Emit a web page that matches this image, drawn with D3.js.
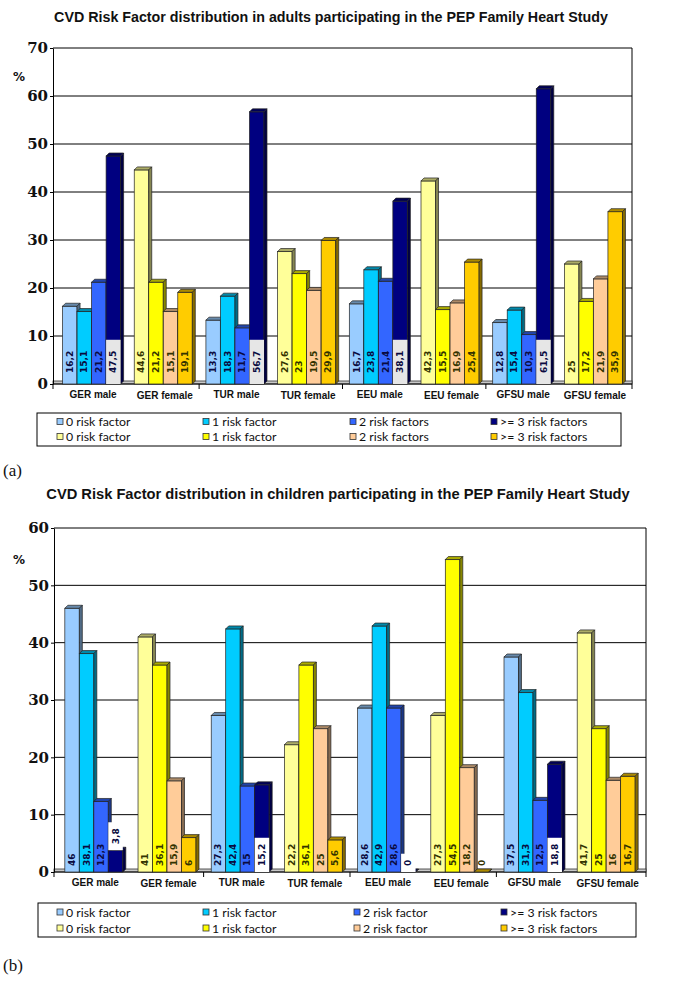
<!DOCTYPE html>
<html><head><meta charset="utf-8">
<script src="https://cdn.jsdelivr.net/npm/d3@7"></script>
<style>body{margin:0;background:#fff}</style>
</head><body>
<script>
// ---------------- DATA ----------------
const categories = ["GER male","GER female","TUR male","TUR female","EEU male","EEU female","GFSU male","GFSU female"];

const adultsRisk0 = [16.2, 44.6, 13.3, 27.6, 16.7, 42.3, 12.8, 25];
const adultsRisk1 = [15.1, 21.2, 18.3, 23, 23.8, 15.5, 15.4, 17.2];
const adultsRisk2 = [21.2, 15.1, 11.7, 19.5, 21.4, 16.9, 10.3, 21.9];
const adultsRisk3 = [47.5, 19.1, 56.7, 29.9, 38.1, 25.4, 61.5, 35.9];

const childrenRisk0 = [46, 41, 27.3, 22.2, 28.6, 27.3, 37.5, 41.7];
const childrenRisk1 = [38.1, 36.1, 42.4, 36.1, 42.9, 54.5, 31.3, 25];
const childrenRisk2 = [12.3, 15.9, 15, 25, 28.6, 18.2, 12.5, 16];
const childrenRisk3 = [3.8, 6, 15.2, 5.6, 0, 0, 18.8, 16.7];

const adultTicks = [0, 10, 20, 30, 40, 50, 60, 70];
const childTicks = [0, 10, 20, 30, 40, 50, 60];

const adultLegend = ["0 risk factor", "1 risk factor", "2 risk factors", ">= 3 risk factors"];
const childLegend = ["0 risk factor", "1 risk factor", "2 risk factor", ">= 3 risk factors"];

const maleColors = ["#99ccff", "#00ccff", "#3366ff", "#000080"];
const femaleColors = ["#ffff99", "#ffff00", "#ffcc99", "#ffcc00"];

// ---------------- DRAW ----------------
const fmt = v => String(v).replace(".", ",");
const svg = d3.select("body").append("svg")
  .attr("width", 679).attr("height", 982).style("display", "block");

function drawChart(o) {
  const g = svg.append("g");
  const y = d3.scaleLinear().domain([0, o.yMax]).range([o.bottom, o.top]);
  const x = d3.scaleBand().domain(categories).range([o.left, o.right])
    .paddingInner(o.pin).paddingOuter(o.pout);
  const xs = d3.scaleBand().domain(d3.range(4)).range([0, x.bandwidth()]);
  const D = 3;
  const y0 = y(0);

  // title: font size fitted to the target width
  const tt = g.append("text").attr("x", o.titleX).attr("y", o.titleY).attr("text-anchor", "middle")
    .attr("font-family", "'Liberation Sans', Arial, sans-serif")
    .attr("font-size", 16).attr("font-weight", "bold").attr("fill", "#111")
    .text(o.title);
  const tl = tt.node().getComputedTextLength();
  tt.attr("font-size", 16 * o.titleLen / tl);

  // gridlines
  g.selectAll("line.grid").data(o.ticks.filter(t => t > 0)).join("line")
    .attr("x1", o.left).attr("x2", o.right)
    .attr("y1", d => y(d)).attr("y2", d => y(d))
    .attr("stroke", "#000").attr("stroke-width", 1);
  // right frame
  g.append("line").attr("x1", o.right).attr("x2", o.right)
    .attr("y1", y(o.yMax)).attr("y2", y0).attr("stroke", "#000");

  // floor
  g.append("rect").attr("x", o.left).attr("y", y0 - D).attr("width", o.right - o.left).attr("height", D)
    .attr("fill", "#c8c8c8").attr("stroke", "#333").attr("stroke-width", 0.8);

  // y axis
  const ya = g.append("g").attr("transform", `translate(${o.left},0)`)
    .call(d3.axisLeft(y).tickValues(o.ticks).tickSize(3).tickSizeOuter(0).tickPadding(2));
  ya.select(".domain").attr("stroke", "#000");
  ya.selectAll(".tick line").attr("stroke", "#000");
  ya.selectAll(".tick text").attr("font-family", "'DejaVu Serif', serif")
    .attr("font-weight", "bold").attr("font-size", 15).attr("fill", "#111");

  g.append("text").attr("x", 13).attr("y", o.pctY).text("%")
    .attr("font-family", "'DejaVu Sans', sans-serif").attr("font-weight", "bold")
    .attr("font-size", 12).attr("fill", "#111");

  // x axis line + ticks
  g.append("line").attr("x1", o.left).attr("x2", o.right).attr("y1", y0).attr("y2", y0).attr("stroke", "#000");
  const step = x.step();
  const tickXs = [o.left, o.right];
  for (let i = 2; i < categories.length; i += 2) {
    tickXs.push(x(categories[i]) - (step - x.bandwidth()) / 2);
  }
  g.selectAll("line.xt").data(tickXs).join("line")
    .attr("x1", d => d).attr("x2", d => d).attr("y1", y0).attr("y2", y0 + 5).attr("stroke", "#000");

  // bars
  categories.forEach((cat, i) => {
    const cols = i % 2 === 0 ? maleColors : femaleColors;
    for (let s = 0; s < 4; s++) {
      const v = o.series[s][i];
      const bx = x(cat) + xs(s), bw = xs.bandwidth(), yt = y(v);
      const c = cols[s];
      const bg = g.append("g");
      bg.append("rect").attr("x", bx).attr("y", yt).attr("width", bw).attr("height", y0 - yt)
        .attr("fill", c).attr("stroke", "#222").attr("stroke-width", 0.7);
      bg.append("polygon")
        .attr("points", [[bx, yt], [bx + D, yt - D], [bx + bw + D, yt - D], [bx + bw, yt]].join(" "))
        .attr("fill", d3.color(c).darker(1.1)).attr("stroke", "#222").attr("stroke-width", 0.7);
      bg.append("polygon")
        .attr("points", [[bx + bw, yt], [bx + bw + D, yt - D], [bx + bw + D, y0 - D], [bx + bw, y0]].join(" "))
        .attr("fill", d3.color(c).darker(1.8)).attr("stroke", "#222").attr("stroke-width", 0.7);
    }
  });

  // value labels
  categories.forEach((cat, i) => {
    const male = i % 2 === 0;
    for (let s = 0; s < 4; s++) {
      const v = o.series[s][i];
      const bx = x(cat) + xs(s), bw = xs.bandwidth(), yt = y(v);
      const cx = bx + bw / 2;
      const t = g.append("text").text(fmt(v))
        .attr("font-family", "'DejaVu Sans', sans-serif").attr("font-weight", "bold")
        .attr("font-size", 9).attr("dominant-baseline", "central").attr("text-anchor", "start")
        .attr("fill", male ? "#0a0a40" : "#333300");
      const L = t.node().getComputedTextLength();
      let base = y0;
      if (male && s === 3) {
        const boxH = L + 2 * o.labelOff;
        base = (y0 - yt) >= boxH ? y0 : yt;
        g.insert("rect", () => t.node()).attr("x", bx).attr("y", base - boxH).attr("width", bw).attr("height", boxH)
          .attr("fill", o.boxFill);
      }
      t.attr("transform", `translate(${cx},${base - o.labelOff}) rotate(-90)`);
    }
  });

  // category labels
  g.selectAll("text.cat").data(categories).join("text")
    .attr("x", d => x(d) + x.bandwidth() / 2 + D / 2)
    .attr("y", (d, i) => y0 + 14 + (i % 2))
    .attr("text-anchor", "middle")
    .attr("font-family", "'Liberation Sans', Arial, sans-serif").attr("font-weight", "bold")
    .attr("font-size", 10).attr("fill", "#111").text(d => d);

  // legend
  const lg = g.append("g");
  lg.append("rect").attr("x", o.lx).attr("y", o.ly).attr("width", o.lw).attr("height", o.lh)
    .attr("fill", "#fff").attr("stroke", "#000").attr("stroke-width", 1);
  [maleColors, femaleColors].forEach((cols, r) => {
    o.legend.forEach((lab, c) => {
      const ry = o.lrows[r];
      lg.append("rect").attr("x", o.lcols[c]).attr("y", ry - 3).attr("width", 6).attr("height", 6)
        .attr("fill", cols[c]).attr("stroke", "#333").attr("stroke-width", 0.8);
      lg.append("text").attr("x", o.lcols[c] + 9).attr("y", ry).attr("dominant-baseline", "central")
        .attr("font-family", "Lato, 'Open Sans', sans-serif").attr("font-size", 12.3).attr("fill", "#111")
        .text(lab);
    });
  });

  g.append("text").attr("x", 3).attr("y", o.tagY).text(o.tag)
    .attr("font-family", "'Liberation Serif', serif").attr("font-size", 17).attr("fill", "#111");
}

drawChart({
  title: "CVD Risk Factor distribution in adults participating in the PEP Family Heart Study",
  titleX: 331, titleY: 22, titleLen: 554,
  left: 53, right: 632, top: 48, bottom: 384, yMax: 70, ticks: adultTicks,
  pin: 0.19, pout: 0.133,
  series: [adultsRisk0, adultsRisk1, adultsRisk2, adultsRisk3],
  legend: adultLegend, lx: 37, ly: 413, lw: 584, lh: 33,
  lcols: [57, 203, 350, 491], lrows: [421.5, 436.5],
  tag: "(a)", tagY: 476, pctY: 81, labelOff: 11, boxFill: "#e6e6e6"
});

drawChart({
  title: "CVD Risk Factor distribution in children participating in the PEP Family Heart Study",
  titleX: 338, titleY: 499, titleLen: 584,
  left: 54, right: 646, top: 528, bottom: 872, yMax: 60, ticks: childTicks,
  pin: 0.208, pout: 0.148,
  series: [childrenRisk0, childrenRisk1, childrenRisk2, childrenRisk3],
  legend: childLegend, lx: 38, ly: 903, lw: 598, lh: 34,
  lcols: [57, 203, 354, 501], lrows: [912, 928],
  tag: "(b)", tagY: 971, pctY: 564, labelOff: 6, boxFill: "#ffffff"
});
</script>
</body></html>
